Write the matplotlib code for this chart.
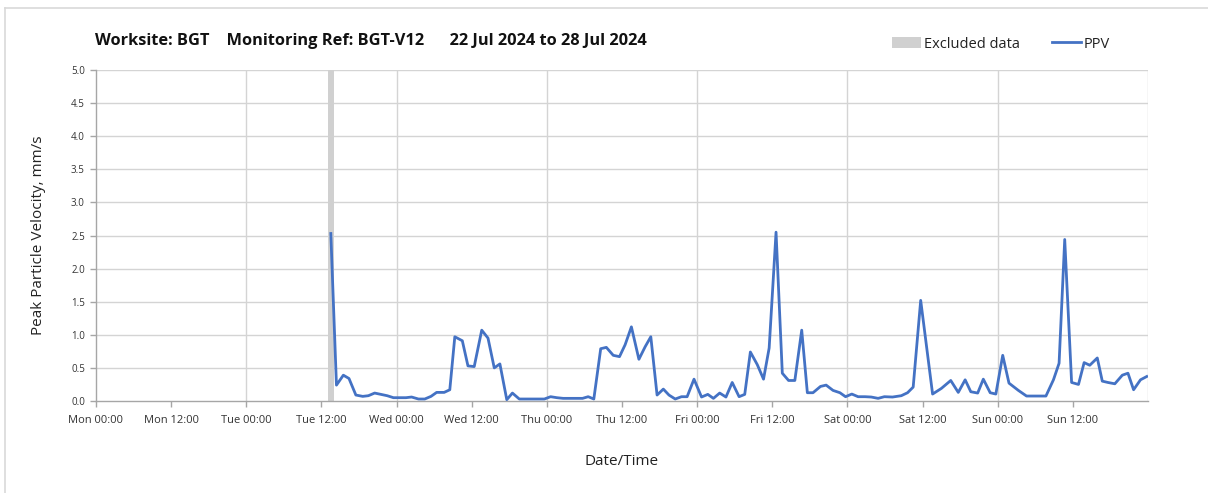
import matplotlib
matplotlib.use("Agg")
import matplotlib.pyplot as plt
from matplotlib.lines import Line2D
from matplotlib.patches import Patch

plt.rcParams['font.family'] = ['Open Sans', 'DejaVu Sans']

# Time in hours since Mon 00:00, PPV in mm/s
hours = [37.5, 38.4, 39.5, 40.4, 41.5, 42.6, 43.5, 44.5, 45.5, 46.5,
         47.5, 48.5, 49.5, 50.4, 51.5, 52.5, 53.5, 54.4, 55.6, 56.5,
         57.3, 58.5, 59.4, 60.4, 61.6, 62.6, 63.6, 64.5, 65.6, 66.5,
         67.6, 68.6, 69.6, 70.6, 71.6, 72.6, 73.6, 74.6, 75.6, 76.6,
         77.7, 78.6, 79.5, 80.6, 81.5, 82.6, 83.6, 84.5, 85.5, 86.7,
         87.7, 88.6, 89.6, 90.6, 91.5, 92.5, 93.5, 94.4, 95.5, 96.7,
         97.7, 98.6, 99.6, 100.6, 101.6, 102.7, 103.6, 104.5, 105.6, 106.6,
         107.5, 108.6, 109.6, 110.6, 111.6, 112.7, 113.6, 114.5, 115.7, 116.6,
         117.7, 118.8, 119.7, 120.7, 121.7, 122.8, 123.8, 124.9, 125.9, 127.2,
         128.6, 129.6, 130.5, 131.7, 133.6, 135.0, 136.5, 137.7, 138.8, 139.7,
         140.8, 141.7, 142.8, 143.7, 144.8, 145.8, 147.3, 148.6, 150.2, 151.7,
         152.9, 153.8, 154.7, 155.8, 156.9, 157.8, 158.7, 159.9, 160.7, 161.6,
         162.7, 163.9, 164.8, 165.7, 166.8, 167.8]
ppv = [2.53, 0.24, 0.39, 0.34, 0.09, 0.07, 0.08, 0.12, 0.10, 0.08,
       0.05, 0.05, 0.05, 0.06, 0.03, 0.03, 0.07, 0.13, 0.13, 0.17,
       0.97, 0.91, 0.53, 0.52, 1.07, 0.95, 0.50, 0.56, 0.02, 0.12,
       0.03, 0.03, 0.03, 0.03, 0.03, 0.065, 0.05, 0.04, 0.04, 0.04,
       0.04, 0.065, 0.03, 0.79, 0.81, 0.69, 0.67, 0.85, 1.12, 0.63,
       0.82, 0.97, 0.09, 0.18, 0.09, 0.03, 0.065, 0.065, 0.33, 0.06,
       0.10, 0.04, 0.12, 0.06, 0.28, 0.065, 0.10, 0.74, 0.55, 0.33,
       0.80, 2.55, 0.42, 0.31, 0.31, 1.07, 0.125, 0.125, 0.22, 0.24,
       0.16, 0.125, 0.065, 0.105, 0.065, 0.065, 0.06, 0.04, 0.065, 0.06,
       0.08, 0.125, 0.21, 1.52, 0.105, 0.19, 0.31, 0.13, 0.32, 0.14,
       0.12, 0.33, 0.125, 0.105, 0.69, 0.27, 0.16, 0.075, 0.075, 0.075,
       0.32, 0.57, 2.44, 0.28, 0.25, 0.58, 0.54, 0.65, 0.30, 0.28,
       0.26, 0.39, 0.42, 0.17, 0.32, 0.37]

excluded_start, excluded_end = 37.0, 38.0

tick_hours = list(range(0, 168, 12))
tick_labels = ["Mon 00:00", "Mon 12:00", "Tue 00:00", "Tue 12:00", "Wed 00:00",
               "Wed 12:00", "Thu 00:00", "Thu 12:00", "Fri 00:00", "Fri 12:00",
               "Sat 00:00", "Sat 12:00", "Sun 00:00", "Sun 12:00"]
day_lines = list(range(24, 169, 24))
y_ticks = [i * 0.5 for i in range(11)]

title = "Worksite: BGT    Monitoring Ref: BGT-V12      22 Jul 2024 to 28 Jul 2024"

W, H = 1208, 493
fig = plt.figure(figsize=(W / 100, H / 100), dpi=100)
ax = fig.add_axes([96 / W, 1 - 401 / H, (1148 - 96) / W, (401 - 70) / H])

grid_c = "#d4d4d4"
for y in y_ticks[1:]:
    ax.axhline(y, color=grid_c, lw=1.0, zorder=0)
for d in day_lines:
    ax.axvline(d, color=grid_c, lw=1.0, zorder=0)

ax.axvspan(excluded_start, excluded_end, color="#d0d0d0", lw=0, zorder=1)
ax.plot(hours, ppv, color="#4472C4", lw=2.0, zorder=3, solid_joinstyle="round")

ax.set_xlim(0, 168)
ax.set_ylim(0, 5)
ax.set_xticks(tick_hours)
ax.set_xticklabels(tick_labels, fontsize=8, color="#333333")
ax.set_yticks(y_ticks)
ax.set_yticklabels([f"{v:.1f}" for v in y_ticks], fontsize=7, color="#333333")
ax.tick_params(axis="both", length=4, color="#a6a6a6", width=1)
ax.tick_params(axis="x", pad=6)
ax.tick_params(axis="y", pad=4)
for s in ["top", "right"]:
    ax.spines[s].set_visible(False)
for s in ["left", "bottom"]:
    ax.spines[s].set_color("#a6a6a6")
    ax.spines[s].set_linewidth(1)

ax.set_xlabel("Date/Time", fontsize=11, color="#222222", labelpad=20)
ax.set_ylabel("Peak Particle Velocity, mm/s", fontsize=11, color="#222222", labelpad=18)

fig.text(95 / W, 1 - 41 / H, title, fontsize=11.8, fontweight="bold", va="center", ha="left",
         color="#111111")

handles = [Patch(facecolor="#d0d0d0", edgecolor="none", label="Excluded data"),
           Line2D([0], [0], color="#4472C4", lw=2, label="PPV")]
fig.legend(handles=handles, loc="center", bbox_to_anchor=(1001 / W, 1 - 44 / H), ncol=2,
           frameon=False, fontsize=10.5, handlelength=2.0, handletextpad=0.2,
           columnspacing=2.2, labelcolor="#222222")

# outer border
fig.add_artist(Line2D([5 / W, 1], [1 - 8 / H, 1 - 8 / H], color="#d9d9d9", lw=1.2,
                      transform=fig.transFigure))
fig.add_artist(Line2D([5 / W, 5 / W], [0, 1 - 8 / H], color="#d9d9d9", lw=1.2,
                      transform=fig.transFigure))

fig.savefig("out.png", dpi=100, facecolor="white")
